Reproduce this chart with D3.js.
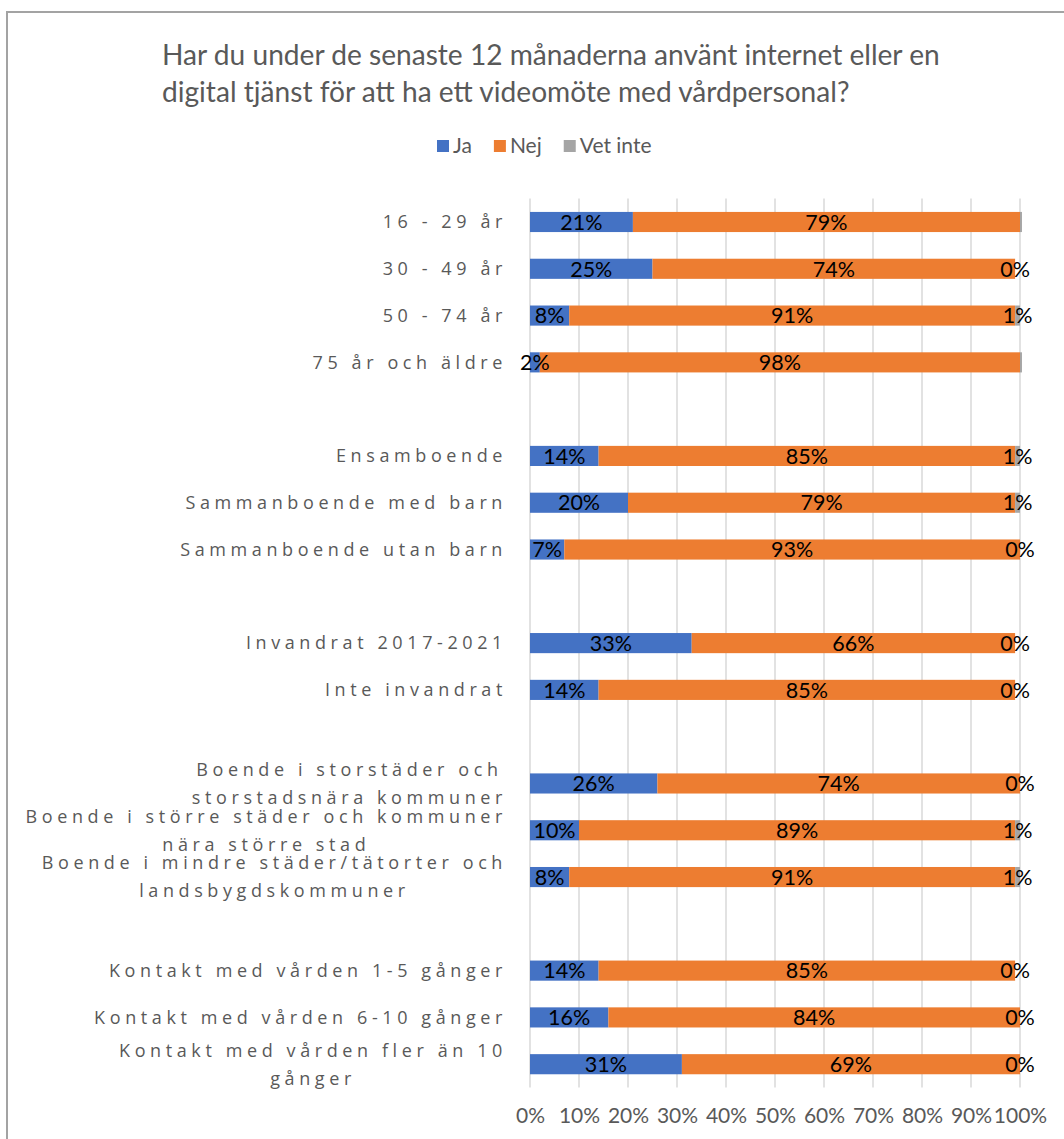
<!DOCTYPE html>
<html><head><meta charset="utf-8">
<script src="https://cdn.jsdelivr.net/npm/d3@7"></script>
<style>
body{margin:0;background:#fff;}
svg{display:block;}
</style></head>
<body>
<svg id="chart" width="1064" height="1139"></svg>
<script>
// ---- data ----
const titleLines = ["Har du under de senaste 12 månaderna använt internet eller en",
                    "digital tjänst för att ha ett videomöte med vårdpersonal?"];
const seriesNames = ["Ja", "Nej", "Vet inte"];
const categories = [
  "16 - 29 år", "30 - 49 år", "50 - 74 år", "75 år och äldre", "",
  "Ensamboende", "Sammanboende med barn", "Sammanboende utan barn", "",
  "Invandrat 2017-2021", "Inte invandrat", "",
  "Boende i storstäder och\nstorstadsnära kommuner",
  "Boende i större städer och kommuner\nnära större stad",
  "Boende i mindre städer/tätorter och\nlandsbygdskommuner", "",
  "Kontakt med vården 1-5 gånger", "Kontakt med vården 6-10 gånger",
  "Kontakt med vården fler än 10\ngånger"
];
const jaValues  = [21, 25, 8, 2, null, 14, 20, 7, null, 33, 14, null, 26, 10, 8, null, 14, 16, 31];
const nejValues = [79, 74, 91, 98, null, 85, 79, 93, null, 66, 85, null, 74, 89, 91, null, 85, 84, 69];
const vetValues = [0.4, 0, 1, 0.4, null, 1, 1, 0, null, 0, 0, null, 0, 1, 1, null, 0, 0, 0];
const vetLabelShown = [false, true, true, false, null, true, true, true, null, true, true, null, true, true, true, null, true, true, true];
const xTicks = [0, 10, 20, 30, 40, 50, 60, 70, 80, 90, 100];
const colors = ["#4472C4", "#ED7D31", "#A5A5A5"];

// ---- layout ----
const svg = d3.select("#chart");
const textGray = "#595959";
const plotLeft = 530, plotRight = 1020, plotTop = 198.6, plotBottom = 1087.6;

// border
svg.append("rect").attr("x", 7).attr("y", 12).attr("width", 1200).attr("height", 1200)
  .attr("fill", "none").attr("stroke", "#a3a3a3").attr("stroke-width", 2);

const x = d3.scaleLinear().domain([0, 100]).range([plotLeft, plotRight]);
const y = d3.scaleBand().domain(d3.range(categories.length))
  .range([plotTop, plotBottom]).paddingInner(0.57).paddingOuter(0.285);

// title
const title = svg.append("g");
titleLines.forEach((t, i) => {
  title.append("text").attr("x", 162).attr("y", 65 + i * 37)
    .attr("font-family", "Lato, sans-serif").attr("font-size", 26)
    .attr("fill", textGray).text(t);
});
(function () {
  const nodes = title.selectAll("text").nodes();
  const w = nodes[0].getComputedTextLength();
  const fs = 26 * 778 / w;
  title.selectAll("text").attr("font-size", fs);
})();

// legend
const legend = svg.append("g").attr("transform", "translate(437,146)");
let lx = 0;
seriesNames.forEach((s, i) => {
  const g = legend.append("g").attr("transform", `translate(${lx},0)`);
  g.append("rect").attr("x", 0).attr("y", -6).attr("width", 12).attr("height", 12).attr("fill", colors[i]);
  const t = g.append("text").attr("x", 16).attr("y", 0).attr("dy", "0.35em")
    .attr("font-family", "Lato, sans-serif").attr("font-size", 21).attr("fill", textGray).text(s);
  lx += 16 + t.node().getComputedTextLength() + 22;
});

// gridlines
svg.append("g").selectAll("line").data(xTicks).join("line")
  .attr("x1", d => x(d)).attr("x2", d => x(d))
  .attr("y1", plotTop).attr("y2", plotBottom)
  .attr("stroke", "#d9d9d9").attr("stroke-width", 1.5);

// x axis labels
const xAxis = d3.axisBottom(x).tickValues(xTicks).tickFormat(d => d + "%").tickSize(0).tickPadding(0);
const xg = svg.append("g").attr("transform", `translate(0,${plotBottom})`).call(xAxis);
xg.select(".domain").remove();
xg.selectAll("text").attr("font-family", "Lato, sans-serif").attr("font-size", 21)
  .attr("fill", textGray).attr("dy", null).attr("y", 35);

// stacked bars
const rows = categories.map((c, i) => ({i, c, vals: [jaValues[i], nejValues[i], vetValues[i]]}))
  .filter(r => r.vals[0] !== null);
const barG = svg.append("g");
rows.forEach(r => {
  let acc = 0;
  r.vals.forEach((v, k) => {
    const x0 = acc, x1 = acc + v;
    acc = x1;
    if (v > 0) {
      barG.append("rect").attr("x", x(x0)).attr("y", y(r.i))
        .attr("width", x(x1) - x(x0)).attr("height", y.bandwidth()).attr("fill", colors[k]);
    }
  });
});
// labels
rows.forEach(r => {
  let acc = 0;
  r.vals.forEach((v, k) => {
    const x0 = acc, x1 = acc + v;
    acc = x1;
    if (k === 2 && !vetLabelShown[r.i]) return;
    svg.append("text").attr("x", x((x0 + x1) / 2)).attr("y", y(r.i) + y.bandwidth() / 2)
      .attr("dy", "0.36em").attr("text-anchor", "middle")
      .attr("font-family", "Lato, sans-serif").attr("font-size", 21.5).attr("fill", "#000")
      .text(Math.round(v) + "%");
  });
});

// category labels (right aligned block, lines centered within it)
const catG = svg.append("g");
const spacing = 4.6, labelRight = 507, lineGap = 28;
categories.forEach((c, i) => {
  if (!c) return;
  const lines = c.split("\n");
  const cy = y(i) + y.bandwidth() / 2;
  const ts = lines.map((ln, j) => catG.append("text")
    .attr("y", cy + (j - (lines.length - 1) / 2) * lineGap)
    .attr("dy", "0.35em")
    .attr("font-family", "'Open Sans', sans-serif").attr("font-size", 18)
    .attr("letter-spacing", spacing).attr("fill", textGray).text(ln));
  const widths = ts.map(t => t.node().getComputedTextLength());
  const maxW = d3.max(widths);
  const center = labelRight - maxW / 2;
  ts.forEach(t => t.attr("x", center).attr("text-anchor", "middle"));
});
</script>
</body></html>
